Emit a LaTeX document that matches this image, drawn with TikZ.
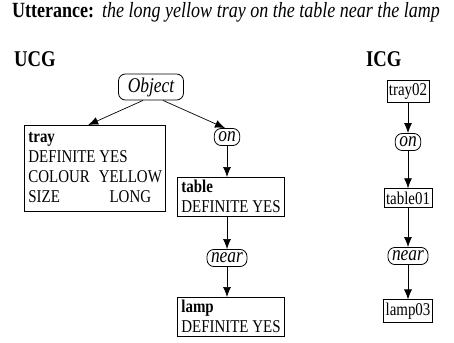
\documentclass[tikz,border=0pt]{standalone}
\usepackage{fontspec}
\setmainfont[FakeStretch=0.83]{Liberation Serif}
\usetikzlibrary{arrows.meta}
\begin{document}
\begin{tikzpicture}[x=1pt,y=-1pt,font=\fontsize{18}{20}\selectfont,
  rbox/.style={draw,line width=0.8pt,rounded corners=7pt,inner xsep=4pt,inner ysep=3.5pt,font=\fontsize{21}{22}\selectfont\itshape},
  sbox/.style={draw,line width=0.8pt,inner xsep=4pt,inner ysep=3pt,align=left},
  ibox/.style={draw,line width=0.8pt,inner xsep=2pt,inner ysep=3pt},
  arr/.style={line width=0.7pt,-{Latex[length=10pt,width=8pt]}}]
\useasboundingbox (0,0) rectangle (454,342);
% header
\node[anchor=base west,inner sep=0pt,font=\fontsize{21.7}{22}\selectfont] (utt) at (12,18) {\textbf{Utterance:}\hspace{8pt}\textit{the long yellow tray on the table near the lamp}};
\node[anchor=base west,inner sep=0pt,font=\fontsize{22.5}{24}\selectfont\bfseries] (ucg) at (14,67) {UCG};
\node[anchor=base west,inner sep=0pt,font=\fontsize{22.5}{24}\selectfont\bfseries] (icg) at (366,67) {ICG};
% UCG
\node[rbox,minimum width=65pt] (obj) at (151,87) {Object};
\node[sbox,anchor=north west] (tray) at (24,125) {\begin{tabular}{@{}l@{\hspace{9pt}}c@{}}\textbf{tray}&\\\multicolumn{2}{@{}l@{}}{DEFINITE YES}\\COLOUR&YELLOW\\SIZE&LONG\end{tabular}};
\node[rbox] (on) at (227,137) {on};
\node[sbox,anchor=north west] (table) at (177,177) {\textbf{table}\\ DEFINITE YES};
\node[rbox] (near) at (227,258) {near};
\node[sbox,anchor=north west] (lamp) at (177,297) {\textbf{lamp}\\ DEFINITE YES};
\draw[arr] ([xshift=-8pt]obj.south) -- ([xshift=-7pt]tray.north);
\draw[arr] ([xshift=12pt]obj.south) -- ([xshift=-2pt]on.north);
\draw[arr] (on.south) -- (on.south |- table.north);
\draw[arr] (near.north |- table.south) -- (near.north);
\draw[arr] (near.south) -- (near.south |- lamp.north);
% ICG
\node[ibox] (t2) at (408,91) {tray02};
\node[rbox] (ion) at (408,142) {on};
\node[ibox] (t1) at (408,198) {table01};
\node[rbox] (inear) at (408,256) {near};
\node[ibox] (l3) at (408,311) {lamp03};
\draw[arr] (t2) -- (ion);
\draw[arr] (ion) -- (t1);
\draw[arr] (t1) -- (inear);
\draw[arr] (inear) -- (l3);
\end{tikzpicture}
\end{document}
